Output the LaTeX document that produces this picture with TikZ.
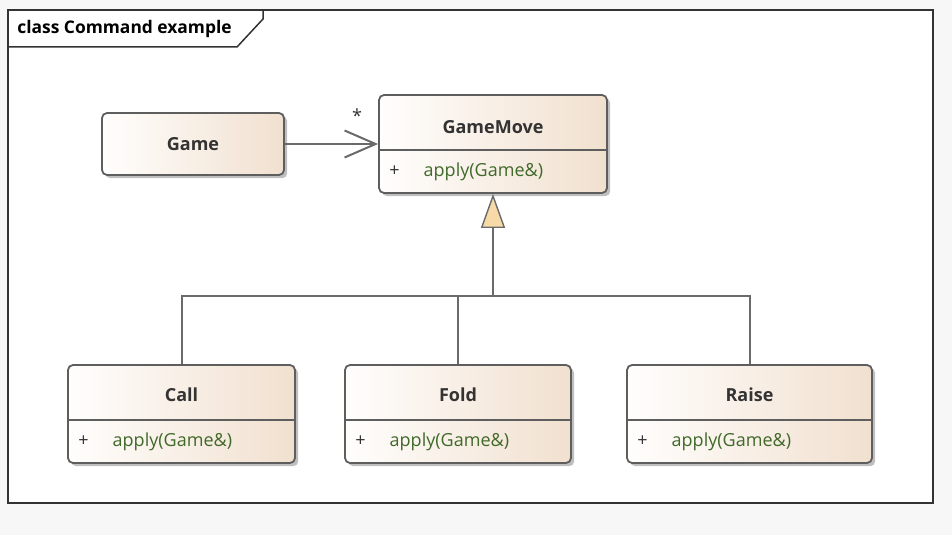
\documentclass[tikz,border=0pt]{standalone}
\usepackage{fontspec}
\setmainfont{Open Sans}
\usepackage{xcolor}
\usepackage{tikz}
\usetikzlibrary{shapes.geometric}
\usetikzlibrary{arrows.meta}
\usetikzlibrary{shadows}
\usetikzlibrary{positioning}
\definecolor{boxline}{HTML}{5E5E5E}
\definecolor{boxleft}{HTML}{FFFEFD}
\definecolor{boxright}{HTML}{F1E0CF}
\definecolor{linkline}{HTML}{6A6A6A}
\definecolor{opgreen}{HTML}{40692A}
\definecolor{namegray}{HTML}{333333}
\definecolor{genfill}{HTML}{F8DAA8}
\tikzstyle{classbox} = [rectangle, rounded corners=2.5pt, draw=boxline, line width=0.9pt, left color=boxleft, right color=boxright, drop shadow={shadow xshift=1.6pt, shadow yshift=-1.6pt, opacity=0.25, fill=black}, minimum height=49pt]
\tikzstyle{classname} = [font=\fontsize{9}{11}\selectfont\bfseries, text=namegray]
\tikzstyle{operation} = [anchor=west, font=\fontsize{9}{11}\selectfont, text=opgreen, inner sep=0pt]
\tikzstyle{divider} = [draw=boxline, line width=0.9pt]
\tikzstyle{link} = [draw=linkline, line width=1pt]
\tikzstyle{assoc} = [link, -{Straight Barb[length=15.5pt,width=13.5pt,line width=1pt]}]
\tikzstyle{generalize} = [link, -{Triangle[length=17pt,width=12pt,fill=genfill,line width=0.7pt]}]
\newcommand{\plusop}{\textcolor{namegray}{+}\hspace{12pt}}

\begin{document}
\begin{tikzpicture}[x=0.5pt, y=-0.5pt]

    \useasboundingbox[fill=black!3] (0,0) rectangle (952,535);
    % diagram frame
    \draw [fill=white, draw=namegray, line width=0.75pt] (8,10) rectangle (933,503);
    \draw [draw=namegray, line width=0.75pt] (8,47) -- (237,47) -- (263,19) -- (263,10);
    \node (title) [anchor=west, font=\fontsize{8.7}{11}\selectfont\bfseries, text=black, inner sep=0pt] at (17,29) {class Command example};

    % classes
    \node (game) [classbox, minimum width=91pt, minimum height=31pt] at (193,144) {};
    \node (gm) [classbox, minimum width=114pt] at (493,144) {};
    \node (call) [classbox, minimum width=113.5pt] at (181.5,414) {};
    \node (fold) [classbox, minimum width=113pt] at (458,414) {};
    \node (raise) [classbox, minimum width=122.5pt] at (749.5,414) {};

    \draw [divider] ([yshift=-3pt]gm.west) -- ([yshift=-3pt]gm.east);
    \draw [divider] ([yshift=-3pt]call.west) -- ([yshift=-3pt]call.east);
    \draw [divider] ([yshift=-3pt]fold.west) -- ([yshift=-3pt]fold.east);
    \draw [divider] ([yshift=-3pt]raise.west) -- ([yshift=-3pt]raise.east);

    \node (gameName) [classname] at (193,144) {Game};
    \node (gmName) [classname] at (493,127) {GameMove};
    \node (callName) [classname] at (181.5,395) {Call};
    \node (foldName) [classname] at (458,395) {Fold};
    \node (raiseName) [classname] at (749.5,395) {Raise};

    \node (gmOp) [operation] at (389,172) {\plusop apply(Game\&)};
    \node (callOp) [operation] at (78,442) {\plusop apply(Game\&)};
    \node (foldOp) [operation] at (355,442) {\plusop apply(Game\&)};
    \node (raiseOp) [operation] at (637,442) {\plusop apply(Game\&)};

    % association
    \draw [assoc] (game) -- (gm.west |- game);
    \node (mult) [font=\fontsize{9}{11}\selectfont, text=namegray] at (357,116) {*};

    % generalization
    \coordinate (joint) at (493,296);
    \draw [link] (call.north) |- (joint);
    \draw [link] (raise.north) |- (joint);
    \draw [link] (fold.north) -- (fold.north |- joint);
    \draw [generalize] (joint) -- (gm.south);

\end{tikzpicture}
\end{document}
